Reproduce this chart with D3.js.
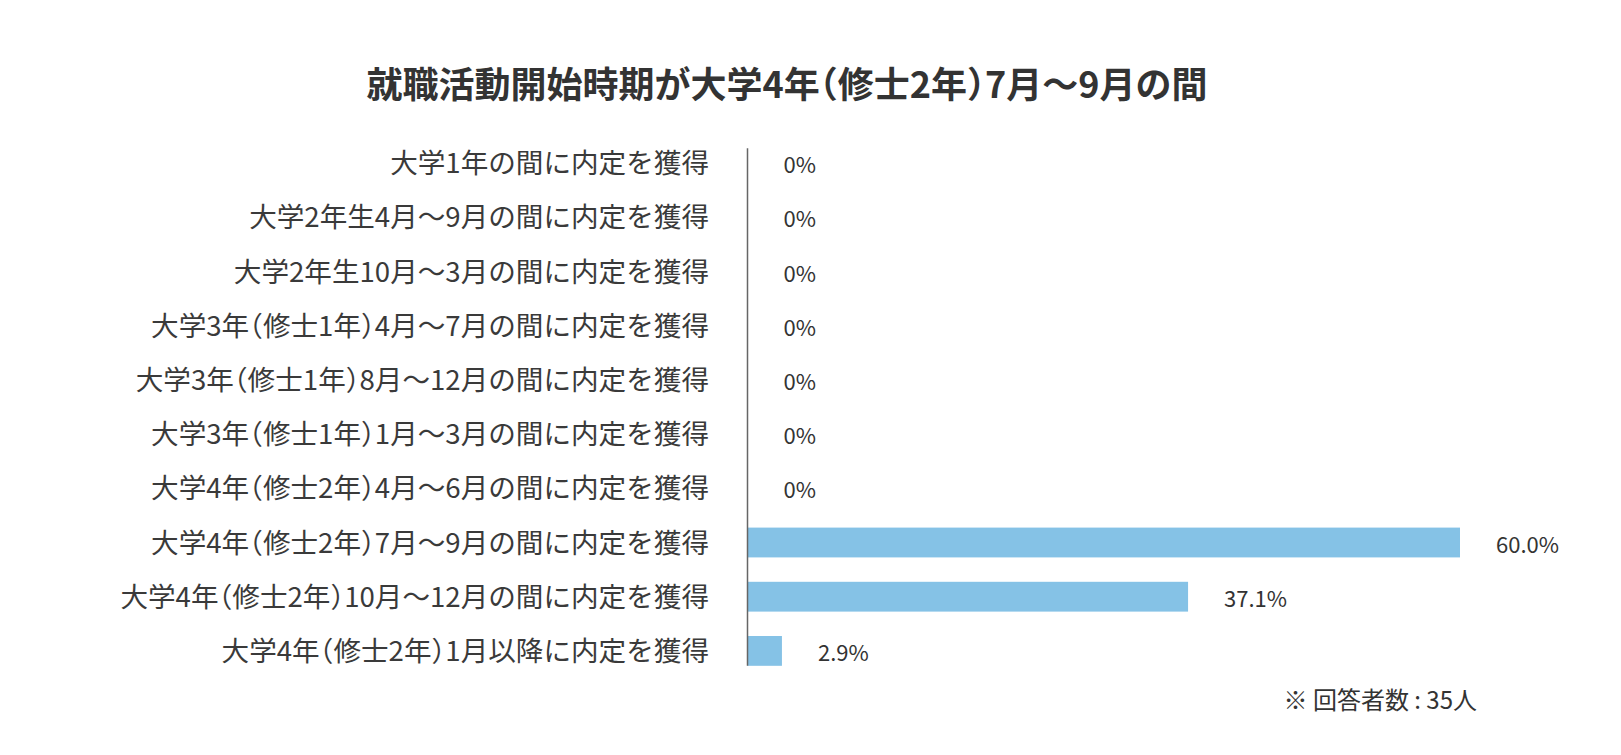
<!DOCTYPE html>
<html>
<head>
<meta charset="utf-8">
<script src="https://cdn.jsdelivr.net/npm/d3@7"></script>
<style>
  html, body { margin: 0; padding: 0; background: #ffffff; }
  svg { display: block; font-family: "Noto Sans CJK JP", "Noto Sans", sans-serif; }
  .halt { font-feature-settings: "halt" 1; }
</style>
</head>
<body>
<svg id="chart" width="1621" height="755"></svg>
<script>
const title = "就職活動開始時期が大学4年（修士2年）7月～9月の間";
const categories = [
  "大学1年の間に内定を獲得",
  "大学2年生4月～9月の間に内定を獲得",
  "大学2年生10月～3月の間に内定を獲得",
  "大学3年（修士1年）4月～7月の間に内定を獲得",
  "大学3年（修士1年）8月～12月の間に内定を獲得",
  "大学3年（修士1年）1月～3月の間に内定を獲得",
  "大学4年（修士2年）4月～6月の間に内定を獲得",
  "大学4年（修士2年）7月～9月の間に内定を獲得",
  "大学4年（修士2年）10月～12月の間に内定を獲得",
  "大学4年（修士2年）1月以降に内定を獲得"
];
const values = [0, 0, 0, 0, 0, 0, 0, 60.0, 37.1, 2.9];
const valueLabels = ["0%", "0%", "0%", "0%", "0%", "0%", "0%", "60.0%", "37.1%", "2.9%"];
const footnote = "※ 回答者数 : 35人";

const svg = d3.select("#chart");
const axisX = 747.5;

const x = d3.scaleLinear().domain([0, 60]).range([axisX, 1460]);
const y = d3.scaleBand().domain(categories).range([136, 678]).paddingInner(0.45).paddingOuter(0.225);

// title
svg.append("text")
  .attr("class", "halt")
  .attr("x", 787).attr("y", 82)
  .attr("text-anchor", "middle")
  .attr("dominant-baseline", "central")
  .attr("font-size", 36).attr("font-weight", "bold")
  .attr("fill", "#333333")
  .text(title);

// bars
svg.append("g").selectAll("rect")
  .data(categories)
  .join("rect")
  .attr("x", axisX)
  .attr("y", d => y(d))
  .attr("width", (d, i) => x(values[i]) - x(0))
  .attr("height", y.bandwidth())
  .attr("fill", "#85c2e6");

// category labels
svg.append("g").selectAll("text")
  .data(categories)
  .join("text")
  .attr("class", "halt")
  .attr("x", 709)
  .attr("y", d => y(d) + y.bandwidth() / 2 - 2)
  .attr("text-anchor", "end")
  .attr("dominant-baseline", "central")
  .attr("font-size", 27.6)
  .attr("fill", "#3a3a3a")
  .text(d => d);

// value labels
svg.append("g").selectAll("text")
  .data(categories)
  .join("text")
  .attr("x", (d, i) => x(values[i]) + 36)
  .attr("y", d => y(d) + y.bandwidth() / 2)
  .attr("dominant-baseline", "central")
  .attr("font-size", 22)
  .attr("fill", "#333333")
  .text((d, i) => valueLabels[i]);

// axis line
svg.append("line")
  .attr("x1", axisX).attr("x2", axisX)
  .attr("y1", y(categories[0]))
  .attr("y2", y(categories[categories.length - 1]) + y.bandwidth())
  .attr("stroke", "#666666")
  .attr("stroke-width", 1.5);

// footnote
svg.append("text")
  .attr("x", 1477).attr("y", 698)
  .attr("text-anchor", "end")
  .attr("dominant-baseline", "central")
  .attr("font-size", 24)
  .attr("fill", "#333333")
  .text(footnote);
</script>
</body>
</html>
